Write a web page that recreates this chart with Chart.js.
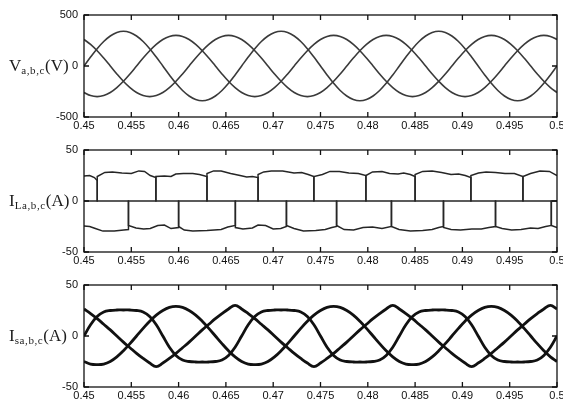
<!DOCTYPE html>
<html>
<head>
<meta charset="utf-8">
<script src="https://cdn.jsdelivr.net/npm/chart.js@4.4.1/dist/chart.umd.min.js"></script>
<style>
  html, body { margin: 0; padding: 0; background: #fff; }
  #wrap { position: relative; width: 563px; height: 409px; overflow: hidden; }
  canvas { position: absolute; left: 0; }
  .ylab { position: absolute; left: 9px; transform: translateY(-50%); white-space: nowrap;
          font-family: "Liberation Serif", "Times New Roman", serif; font-size: 17px; color: #1c1c1c; }
  .ylab sub { font-size: 11px; vertical-align: -3px; letter-spacing: 0.6px; }
</style>
</head>
<body>
<div id="wrap">
  <canvas id="cv" width="563" height="135" style="top:0"></canvas>
  <canvas id="cil" width="563" height="135" style="top:135px"></canvas>
  <canvas id="cis" width="563" height="135" style="top:270px"></canvas>
  <div class="ylab" style="top:66px">V<sub>a,b,c</sub>(V)</div>
  <div class="ylab" style="top:201px">I<sub>La,b,c</sub>(A)</div>
  <div class="ylab" style="top:336px">I<sub>sa,b,c</sub>(A)</div>
</div>
<script>
// axes
const xTicks = [0.45, 0.455, 0.46, 0.465, 0.47, 0.475, 0.48, 0.485, 0.49, 0.495, 0.5];
const vTicks = [-500, 0, 500];
const iTicks = [-50, 0, 50];

// sample times (s), 1/1440 s apart
const t = [
  0.45, 0.450694, 0.451389, 0.452083, 0.452778, 0.453472, 0.454167, 0.454861, 0.455556, 0.45625, 0.456944, 0.457639,
  0.458333, 0.459028, 0.459722, 0.460417, 0.461111, 0.461806, 0.4625, 0.463194, 0.463889, 0.464583, 0.465278, 0.465972,
  0.466667, 0.467361, 0.468056, 0.46875, 0.469444, 0.470139, 0.470833, 0.471528, 0.472222, 0.472917, 0.473611, 0.474306,
  0.475, 0.475694, 0.476389, 0.477083, 0.477778, 0.478472, 0.479167, 0.479861, 0.480556, 0.48125, 0.481944, 0.482639,
  0.483333, 0.484028, 0.484722, 0.485417, 0.486111, 0.486806, 0.4875, 0.488194, 0.488889, 0.489583, 0.490278, 0.490972,
  0.491667, 0.492361, 0.493056, 0.49375, 0.494444, 0.495139, 0.495833, 0.496528, 0.497222, 0.497917, 0.498611, 0.499306,
  0.5
];

// source voltages (V)
const va = [
  0, 88, 170, 240, 294, 328,
  340, 328, 294, 240, 170, 88, 0, -88, -170, -240, -294, -328, -340, -328, -294, -240, -170, -88, 0, 88, 170, 240, 294, 328,
  340, 328, 294, 240, 170, 88, 0, -88, -170, -240, -294, -328, -340, -328, -294, -240, -170, -88, 0, 88, 170, 240, 294, 328,
  340, 328, 294, 240, 170, 88, 0, -88, -170, -240, -294, -328, -340, -328, -294, -240, -170, -88, 0
];
const vb = [
  -260, -290, -300, -290, -260, -212, -150, -78, 0, 78, 150, 212, 260, 290,
  300, 290, 260, 212, 150, 78, 0, -78, -150, -212, -260, -290, -300, -290, -260, -212, -150, -78, 0, 78, 150, 212, 260, 290,
  300, 290, 260, 212, 150, 78, 0, -78, -150, -212, -260, -290, -300, -290, -260, -212, -150, -78, 0, 78, 150, 212, 260, 290,
  300, 290, 260, 212, 150, 78, 0, -78, -150, -212, -260
];
const vc = [
  260, 212, 150, 78, 0, -78, -150, -212, -260, -290, -300, -290, -260, -212, -150, -78, 0, 78, 150, 212, 260, 290,
  300, 290, 260, 212, 150, 78, 0, -78, -150, -212, -260, -290, -300, -290, -260, -212, -150, -78, 0, 78, 150, 212, 260, 290,
  300, 290, 260, 212, 150, 78, 0, -78, -150, -212, -260, -290, -300, -290, -260, -212, -150, -78, 0, 78, 150, 212, 260, 290,
  300, 290, 260
];

// source currents (A)
const isa = [
  0, 11, 19, 23.5, 25, 25.5,
  25.5, 25.5, 25, 23.5, 19, 11, 0, -11, -19, -23.5, -25, -25.5, -25.5, -25.5, -25, -23.5, -19, -11, 0, 11, 19, 23.5, 25, 25.5,
  25.5, 25.5, 25, 23.5, 19, 11, 0, -11, -19, -23.5, -25, -25.5, -25.5, -25.5, -25, -23.5, -19, -11, 0, 11, 19, 23.5, 25, 25.5,
  25.5, 25.5, 25, 23.5, 19, 11, 0, -11, -19, -23.5, -25, -25.5, -25.5, -25.5, -25, -23.5, -19, -11, 0
];
const isb = [
  -25, -27.5, -28, -27.5, -25, -20.5, -14.5, -7.5, 0, 7.5, 14.5, 20.5, 25, 28,
  29, 28, 25, 20.5, 14.5, 7.5, 0, -7.5, -14.5, -20.5, -25, -27.5, -28, -27.5, -25, -20.5, -14.5, -7.5, 0, 7.5, 14.5, 20.5, 25, 28,
  29, 28, 25, 20.5, 14.5, 7.5, 0, -7.5, -14.5, -20.5, -25, -27.5, -28, -27.5, -25, -20.5, -14.5, -7.5, 0, 7.5, 14.5, 20.5, 25, 28,
  29, 28, 25, 20.5, 14.5, 7.5, 0, -7.5, -14.5, -20.5, -25
];
const isc = [
  26.5, 22, 17, 11.5, 6, 0, -6, -11.5, -17, -22, -26.5, -30, -26.5, -22, -17, -11.5, -6, 0, 6, 11.5, 17, 22, 26.5,
  30, 26.5, 22, 17, 11.5, 6, 0, -6, -11.5, -17, -22, -26.5, -30, -26.5, -22, -17, -11.5, -6, 0, 6, 11.5, 17, 22, 26.5,
  30, 26.5, 22, 17, 11.5, 6, 0, -6, -11.5, -17, -22, -26.5, -30, -26.5, -22, -17, -11.5, -6, 0, 6, 11.5, 17, 22, 26.5,
  30, 26.5
];

// load currents (A): times and values per phase
const ilaT = [
  0.45, 0.4514, 0.4514, 0.4522, 0.453, 0.454, 0.455, 0.4558, 0.4564, 0.457, 0.4576, 0.4576,
  0.46, 0.46, 0.4606, 0.4615, 0.463, 0.4645, 0.4652, 0.466, 0.466,
  0.4684, 0.4684, 0.469, 0.4698, 0.471, 0.4722, 0.473, 0.4737, 0.4743, 0.4743,
  0.4767, 0.4767, 0.4775, 0.4785, 0.4795, 0.4805, 0.4815, 0.4825, 0.4825,
  0.485, 0.485, 0.4858, 0.4868, 0.4878, 0.4888, 0.4896, 0.4903, 0.4909, 0.4909,
  0.4935, 0.4935, 0.4942, 0.4952, 0.4962, 0.4972, 0.498, 0.4988, 0.4994, 0.4994, 0.5
];
const ilaV = [
  0, 0, 24, 28, 28.5, 27.5, 27, 29.5, 29, 25, 23, 0,
  0, -25, -28.5, -29.5, -29, -28, -25.5, -24, 0,
  0, 26, 28.5, 29.5, 29.5, 27.5, 28, 26, 24, 0,
  0, -24, -28, -28.5, -26, -25.5, -27, -25, 0,
  0, 26, 29, 29.5, 28, 26, 26.5, 25, 23, 0,
  0, -25, -27, -28.5, -28, -26.5, -27, -25, -24, 0, 0
];
const ilbT = [
  0.45, 0.4506, 0.4512, 0.452, 0.4532, 0.4542, 0.4547, 0.4547,
  0.4576, 0.4576, 0.4585, 0.4592, 0.4597, 0.4605, 0.4615, 0.4622, 0.463, 0.463,
  0.466, 0.466, 0.4668, 0.4678, 0.4684, 0.4692, 0.47, 0.4708, 0.4714, 0.4714,
  0.4743, 0.4743, 0.4752, 0.476, 0.477, 0.478, 0.479, 0.4798, 0.4798,
  0.4825, 0.4825, 0.4833, 0.4845, 0.4858, 0.4868, 0.4875, 0.488, 0.488,
  0.4909, 0.4909, 0.4917, 0.4925, 0.4935, 0.4945, 0.4955, 0.4964, 0.4964,
  0.4994, 0.4994, 0.5
];
const ilbV = [
  -24.5, -25, -27, -29.5, -29.5, -28.5, -28, 0,
  0, 24, 24.5, 24, 26.5, 27, 27, 26, 24, 0,
  0, -26, -27.5, -26.5, -23.5, -24, -27.5, -27, -25, 0,
  0, 24, 26, 29, 29, 27.5, 27, 25, 0,
  0, -25, -28, -29.5, -29, -28, -26, -25, 0,
  0, 25, 27.5, 28.5, 28, 27, 27, 24, 0,
  0, -24, -26
];
const ilcT = [
  0.45, 0.4506, 0.4511, 0.4514, 0.4514,
  0.4547, 0.4547, 0.4555, 0.4563, 0.457, 0.4578, 0.4585, 0.4592, 0.46, 0.46,
  0.463, 0.463, 0.4637, 0.4645, 0.4655, 0.4665, 0.4672, 0.4678, 0.4684, 0.4684,
  0.4714, 0.4714, 0.4722, 0.4732, 0.4745, 0.4755, 0.4762, 0.4767, 0.4767,
  0.4798, 0.4798, 0.4805, 0.4815, 0.4823, 0.4832, 0.4838, 0.4845, 0.485, 0.485,
  0.488, 0.488, 0.4888, 0.4898, 0.491, 0.492, 0.4928, 0.4935, 0.4935,
  0.4964, 0.4964, 0.4972, 0.4982, 0.4992, 0.5
];
const ilcV = [
  24.5, 25, 23, 20, 0,
  0, -24, -26.5, -27.5, -27, -24, -23.5, -27, -26, 0,
  0, 27, 29.5, 29.5, 27, 25, 23.5, 24, 23, 0,
  0, -24, -27, -29.5, -29, -28, -26, -25, 0,
  0, 25, 28.5, 29, 27, 26.5, 27.5, 26, 24, 0,
  0, -26, -28, -28.5, -27.5, -27.5, -26, -25, 0,
  0, 24, 27, 29.5, 29, 25
];

const pts = (xs, ys) => xs.map((x, i) => ({ x: x, y: ys[i] }));
const labelFont = { family: 'Liberation Sans', size: 11 };

// frame with inward ticks, like the original figure
const framePlugin = {
  id: 'frame',
  afterDraw(chart) {
    const { ctx, chartArea: a } = chart;
    const x = chart.scales.x, y = chart.scales.y;
    ctx.save();
    ctx.strokeStyle = '#111';
    ctx.lineWidth = 1.3;
    ctx.strokeRect(a.left, a.top, a.right - a.left, a.bottom - a.top);
    ctx.beginPath();
    x.ticks.forEach(tk => {
      const px = x.getPixelForValue(tk.value);
      ctx.moveTo(px, a.top); ctx.lineTo(px, a.top + 5);
      ctx.moveTo(px, a.bottom); ctx.lineTo(px, a.bottom - 5);
    });
    y.ticks.forEach(tk => {
      const py = y.getPixelForValue(tk.value);
      ctx.moveTo(a.left, py); ctx.lineTo(a.left + 5, py);
      ctx.moveTo(a.right, py); ctx.lineTo(a.right - 5, py);
    });
    ctx.stroke();
    ctx.restore();
  }
};

function makePlot(id, series, yTicks, color, width, tension) {
  return new Chart(document.getElementById(id), {
    type: 'line',
    data: {
      datasets: series.map(s => ({
        data: s, borderColor: color, borderWidth: width,
        pointRadius: 0, fill: false, tension: tension
      }))
    },
    options: {
      responsive: false,
      animation: false,
      devicePixelRatio: 1,
      layout: { padding: { top: 15, right: 6, left: 0, bottom: 0 } },
      plugins: { legend: { display: false }, tooltip: { enabled: false } },
      scales: {
        x: {
          type: 'linear', min: 0.45, max: 0.5,
          afterBuildTicks: s => { s.ticks = xTicks.map(v => ({ value: v })); },
          afterFit: s => { s.height = 18; s.paddingLeft = 0; s.paddingRight = 0; },
          grid: { display: false, drawTicks: false },
          border: { display: false },
          ticks: {
            autoSkip: false, maxRotation: 0, padding: 2, color: '#111', font: labelFont,
            callback: v => String(+v.toFixed(3))
          }
        },
        y: {
          type: 'linear', min: yTicks[0], max: yTicks[yTicks.length - 1],
          afterBuildTicks: s => { s.ticks = yTicks.map(v => ({ value: v })); },
          afterFit: s => { s.width = 84; },
          grid: { display: false, drawTicks: false },
          border: { display: false },
          ticks: { padding: 6, color: '#111', font: labelFont }
        }
      }
    },
    plugins: [framePlugin]
  });
}

makePlot('cv', [pts(t, va), pts(t, vb), pts(t, vc)], vTicks, '#3a3a3a', 1.6, 0.4);
makePlot('cil', [pts(ilaT, ilaV), pts(ilbT, ilbV), pts(ilcT, ilcV)], iTicks, '#262626', 1.5, 0);
makePlot('cis', [pts(t, isa), pts(t, isb), pts(t, isc)], iTicks, '#111', 2.8, 0.4);
</script>
</body>
</html>
